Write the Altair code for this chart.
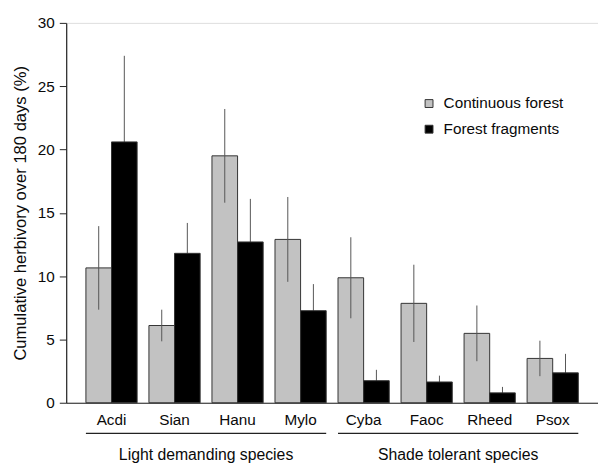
import altair as alt
import pandas as pd

species = ["Acdi", "Sian", "Hanu", "Mylo", "Cyba", "Faoc", "Rheed", "Psox"]
series_names = ["Continuous forest", "Forest fragments"]
cont_mean = [10.65, 6.1, 19.5, 12.9, 9.87, 7.85, 5.48, 3.5]
cont_se = [3.3, 1.25, 3.7, 3.35, 3.2, 3.05, 2.2, 1.4]
frag_mean = [20.6, 11.8, 12.7, 7.27, 1.74, 1.64, 0.78, 2.36]
frag_se = [6.8, 2.4, 3.4, 2.1, 0.86, 0.5, 0.47, 1.5]

groups = ["Light demanding species", "Shade tolerant species"]
group_first = ["Acdi", "Cyba"]
group_last = ["Mylo", "Psox"]
group_mid = ["Sian", "Faoc"]

rows = []
for s, m, e in zip(species, cont_mean, cont_se):
    rows.append({"species": s, "series": series_names[0], "mean": m, "lo": m - e, "hi": m + e})
for s, m, e in zip(species, frag_mean, frag_se):
    rows.append({"species": s, "series": series_names[1], "mean": m, "lo": m - e, "hi": m + e})
df = pd.DataFrame(rows)
gdf = pd.DataFrame({"group": groups, "first": group_first, "last": group_last, "mid": group_mid})

FONT = "Liberation Sans"
TXT = "#0a0a0a"
xscale = alt.Scale(domain=species, paddingInner=0.1875, paddingOuter=0.3125)
oscale = alt.Scale(domain=series_names, paddingInner=0, paddingOuter=0)
yscale = alt.Scale(domain=[0, 30], nice=False)

xaxis = alt.Axis(title=None, labelAngle=0, ticks=False, domainColor="#222", domainWidth=1.2,
                 labelFontSize=15.5, labelColor=TXT, labelPadding=10, labelFont=FONT)
yaxis = alt.Axis(title="Cumulative herbivory over 180 days (%)", values=[0, 5, 10, 15, 20, 25, 30],
                 grid=False, tickSize=7, tickColor="#222", domainColor="#222", domainWidth=1.2,
                 labelFontSize=15.5, labelColor=TXT, labelPadding=5, labelFont=FONT,
                 titleFontSize=16.8, titleFontWeight="normal", titleColor=TXT, titleFont=FONT,
                 titlePadding=8)

base = alt.Chart(df)

bars = base.mark_bar(stroke="#333", strokeWidth=1).encode(
    x=alt.X("species:N", scale=xscale, axis=xaxis, sort=species),
    xOffset=alt.XOffset("series:N", scale=oscale),
    y=alt.Y("mean:Q", scale=yscale, axis=yaxis),
    color=alt.Color("series:N", scale=alt.Scale(domain=series_names, range=["#c2c2c2", "#000000"]),
                    legend=alt.Legend(title=None, orient="none", legendX=360, legendY=74,
                                      symbolType="square", symbolSize=64, symbolStrokeColor="#333",
                                      symbolStrokeWidth=1, labelFontSize=15.5, labelFont=FONT,
                                      labelColor=TXT, labelOffset=7, rowPadding=9)),
)

def err(name):
    return base.transform_filter(alt.datum.series == name).mark_rule(color="#555", strokeWidth=1).encode(
        x=alt.X("species:N", scale=xscale, axis=xaxis, sort=species),
        xOffset=alt.XOffset("series:N", scale=oscale),
        y=alt.Y("lo:Q", scale=yscale, axis=yaxis),
        y2="hi:Q",
    )

glines = alt.Chart(gdf).mark_rule(color="#222", strokeWidth=1.2).encode(
    x=alt.X("first:N", scale=xscale, axis=xaxis, bandPosition=0),
    x2=alt.X2("last", bandPosition=1),
    y=alt.value(416),
)
gtext = alt.Chart(gdf).mark_text(fontSize=16, font=FONT, color=TXT, baseline="middle", align="center", dx=6).encode(
    x=alt.X("mid:N", scale=xscale, axis=xaxis, bandPosition=1),
    y=alt.value(438),
    text="group:N",
)

chart = alt.layer(err(series_names[1]), bars, err(series_names[0]), glines, gtext).properties(
    width=539, height=385,
    autosize=alt.AutoSizeParams(type="none"),
    padding={"left": 59, "top": 12, "right": 0, "bottom": 60},
).configure_view(stroke=None).configure(background="white")

chart.save("out.html", embed_options={"renderer": "svg", "actions": False})
